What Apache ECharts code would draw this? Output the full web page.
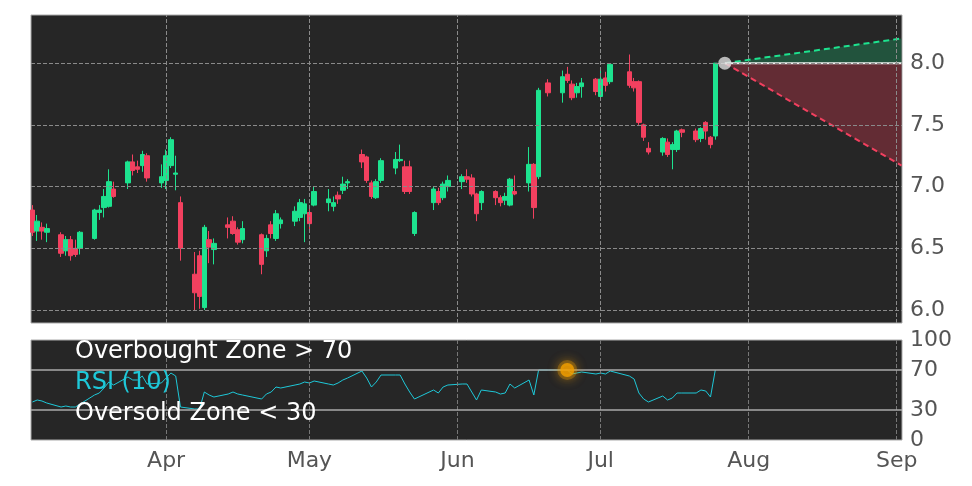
<!DOCTYPE html>
<html><head><meta charset="utf-8">
<script src="https://cdn.jsdelivr.net/npm/echarts@6/dist/echarts.min.js"></script>
<style>html,body{margin:0;background:#fff}#c{width:972px;height:486px}</style>
</head><body><div id="c"></div>
<script>
const dates = ['2025-03-04','2025-03-05','2025-03-06','2025-03-07','2025-03-10','2025-03-11','2025-03-12','2025-03-13','2025-03-14','2025-03-17','2025-03-18','2025-03-19','2025-03-20','2025-03-21','2025-03-24','2025-03-25','2025-03-26','2025-03-27','2025-03-28','2025-03-31',
'2025-04-01','2025-04-02','2025-04-03','2025-04-04','2025-04-07','2025-04-08','2025-04-09','2025-04-10','2025-04-11','2025-04-14','2025-04-15','2025-04-16','2025-04-17','2025-04-21','2025-04-22','2025-04-23','2025-04-24','2025-04-25','2025-04-28','2025-04-29','2025-04-30',
'2025-05-01','2025-05-02','2025-05-05','2025-05-06','2025-05-07','2025-05-08','2025-05-09','2025-05-12','2025-05-13','2025-05-14','2025-05-15','2025-05-16','2025-05-19','2025-05-20','2025-05-21','2025-05-22','2025-05-23','2025-05-27','2025-05-28','2025-05-29','2025-05-30',
'2025-06-02','2025-06-03','2025-06-04','2025-06-05','2025-06-06','2025-06-09','2025-06-10','2025-06-11','2025-06-12','2025-06-13','2025-06-16','2025-06-17','2025-06-18','2025-06-20','2025-06-23','2025-06-24','2025-06-25','2025-06-26','2025-06-27','2025-06-30',
'2025-07-01','2025-07-02','2025-07-03','2025-07-07','2025-07-08','2025-07-09','2025-07-10','2025-07-11','2025-07-14','2025-07-15','2025-07-16','2025-07-17','2025-07-18','2025-07-21','2025-07-22','2025-07-23','2025-07-24','2025-07-25'];
// [open, close, low, high]
const ohlc = [
[6.81,6.63,6.60,6.85],[6.64,6.72,6.56,6.77],[6.67,6.64,6.57,6.71],[6.63,6.66,6.55,6.70],[6.61,6.46,6.43,6.63],[6.48,6.57,6.44,6.60],[6.57,6.44,6.40,6.60],[6.50,6.45,6.43,6.57],[6.50,6.63,6.45,6.64],[6.58,6.81,6.57,6.82],
[6.79,6.81,6.73,6.85],[6.83,6.92,6.75,6.98],[6.84,7.04,6.83,7.14],[6.98,6.92,6.91,7.04],[7.03,7.20,6.98,7.21],[7.20,7.13,7.09,7.26],[7.16,7.14,7.11,7.21],[7.17,7.26,7.12,7.29],[7.25,7.07,7.04,7.27],[7.03,7.08,6.99,7.18],
[7.05,7.25,6.98,7.30],[7.17,7.38,7.15,7.40],[7.10,7.11,6.97,7.25],[6.87,6.50,6.40,6.92],[6.29,6.14,6.00,6.47],[6.44,6.11,6.01,6.48],[6.02,6.67,6.00,6.69],[6.57,6.51,6.38,6.64],[6.49,6.54,6.37,6.58],[6.69,6.67,6.58,6.75],
[6.72,6.62,6.61,6.76],[6.65,6.55,6.53,6.67],[6.57,6.66,6.54,6.72],[6.61,6.37,6.29,6.62],[6.48,6.58,6.43,6.61],[6.69,6.62,6.58,6.72],[6.58,6.78,6.56,6.81],[6.70,6.73,6.66,6.75],[6.72,6.80,6.68,6.84],[6.75,6.87,6.72,6.90],[6.78,6.86,6.55,6.90],
[6.79,6.70,6.64,6.82],[6.85,6.96,6.84,7.00],[6.87,6.90,6.80,6.98],[6.84,6.87,6.80,6.92],[6.93,6.90,6.86,6.96],[6.97,7.02,6.94,7.08],[7.03,7.04,6.98,7.06],[7.26,7.20,7.15,7.30],[7.24,7.05,7.03,7.25],[7.03,6.92,6.90,7.05],
[6.91,7.04,6.90,7.06],[7.05,7.21,7.03,7.23],[7.15,7.22,7.10,7.28],[7.21,7.22,7.20,7.34],[7.16,6.96,6.94,7.21],[7.16,6.96,6.94,7.21],[6.62,6.79,6.60,6.80],[6.87,6.98,6.81,7.00],[6.96,6.87,6.85,6.99],[6.91,7.02,6.89,7.04],[7.00,7.05,6.96,7.09],
[7.04,7.08,6.98,7.10],[7.08,7.06,7.03,7.14],[7.07,6.94,6.92,7.10],[6.94,6.78,6.72,6.95],[6.87,6.96,6.81,6.97],[6.96,6.91,6.85,6.97],[6.91,6.87,6.84,6.93],[6.89,6.92,6.85,6.95],[6.85,7.06,6.84,7.07],[6.96,6.94,6.93,7.09],
[7.03,7.18,6.96,7.32],[7.18,6.83,6.74,7.19],[7.08,7.78,7.06,7.80],[7.84,7.76,7.73,7.87],[7.76,7.89,7.68,7.94],[7.91,7.86,7.84,7.97],[7.83,7.72,7.70,7.86],[7.76,7.81,7.72,7.84],[7.81,7.84,7.72,7.88],[7.87,7.77,7.74,7.88],
[7.73,7.87,7.72,7.96],[7.88,7.82,7.77,7.93],[7.85,7.99,7.83,8.00],[7.93,7.82,7.80,8.07],[7.85,7.80,7.77,7.88],[7.85,7.52,7.50,7.86],[7.50,7.40,7.37,7.51],[7.31,7.28,7.26,7.36],[7.28,7.39,7.25,7.40],[7.36,7.26,7.24,7.39],
[7.30,7.34,7.14,7.36],[7.30,7.45,7.28,7.46],[7.46,7.44,7.40,7.47],[7.45,7.38,7.36,7.47],[7.39,7.47,7.36,7.48],[7.52,7.45,7.38,7.53],[7.40,7.34,7.31,7.41],[7.41,8.00,7.38,8.00]];
const rsi = [38,40,39,37,33,34,33,33,36,45,47,52,58,55,63,60,60,64,56,57,62,67,64,33,31,31,48,45,43,46,48,46,45,41,46,48,53,52,55,56,58,57,59,56,55,57,60,62,69,62,53,58,65,65,65,56,48,41,50,47,53,55,56,56,48,40,50,48,46,47,56,52,60,45,70,70,70,70,66,67,68,66,67,66,69,64,61,47,41,38,44,40,42,47,47,47,50,49,43,70];
const forecastDates = ['2025-07-27','2025-09-02'];
const forecastMid = [8.0, 8.0];
const forecastHigh = [8.0, 8.2];
const forecastLow = [8.0, 7.17];
const rsiDot = ['2025-06-24', 70];
const priceTicks = [6.0,6.5,7.0,7.5,8.0];
const rsiTicks = [0,30,70,100];
const monthTicks = ['2025-04-01','2025-05-01','2025-06-01','2025-07-01','2025-08-01','2025-09-01'];
const monthNames = ['Apr','May','Jun','Jul','Aug','Sep'];

const T = s => new Date(s+'T00:00:00Z').getTime();
const xMin = T('2025-03-04') - 0.3*864e5, xMax = T('2025-09-02') + 0.1*864e5;
const UP='#1de38f', DN='#f2405f';
const candles = dates.map((d,i)=>[T(d), ...ohlc[i]]);
const grey='#999';
const dash = {type:'dashed',color:'#8a8a8a',width:1};
const monthLines = monthTicks.map(m=>({xAxis:T(m)}));
const fc = forecastDates.map(T);
const FS = 22;

const chart = echarts.init(document.getElementById('c'));
chart.setOption({
  animation:false,
  backgroundColor:'#fff',
  grid:[{left:31,right:70,top:15,height:308,backgroundColor:'#262626',show:true,borderColor:'#aaa',borderWidth:1},
        {left:31,right:70,top:340,height:100,backgroundColor:'#262626',show:true,borderColor:'#aaa',borderWidth:1}],
  xAxis:[
    {type:'time',gridIndex:0,min:xMin,max:xMax,axisLabel:{show:false},axisLine:{show:false},axisTick:{show:false},splitLine:{show:false}},
    {type:'time',gridIndex:1,min:xMin,max:xMax,axisLine:{show:false},splitLine:{show:false},axisTick:{show:false},
     axisLabel:{color:'#555',fontSize:FS,fontFamily:'DejaVu Sans',margin:10,hideOverlap:false,
       formatter:v=>{const i=monthTicks.map(T).indexOf(v);return i>=0?monthNames[i]:'';}}}
  ],
  yAxis:[
    {type:'value',gridIndex:0,position:'right',min:5.895,max:8.39,splitLine:{show:false},axisLine:{show:false},
     axisTick:{customValues:priceTicks,length:5,lineStyle:{color:grey}},
     axisLabel:{customValues:priceTicks,color:'#555',fontSize:FS,fontFamily:'DejaVu Sans',margin:8,formatter:v=>v.toFixed(1)}},
    {type:'value',gridIndex:1,position:'right',min:0,max:100,splitLine:{show:false},axisLine:{show:false},
     axisTick:{customValues:rsiTicks,length:5,lineStyle:{color:grey}},
     axisLabel:{customValues:rsiTicks,color:'#555',fontSize:FS,fontFamily:'DejaVu Sans',margin:8}}
  ],
  series:[
    {type:'line',xAxisIndex:0,yAxisIndex:0,data:[],silent:true,
     markLine:{symbol:'none',silent:true,label:{show:false},lineStyle:dash,
       data:[...monthLines,...priceTicks.map(p=>({yAxis:p}))]}},
    {type:'custom',xAxisIndex:0,yAxisIndex:0,silent:true,data:[[fc[0],8]],
     renderItem:(params,api)=>{
       const a=api.coord([fc[0],forecastMid[0]]);
       const hi=api.coord([fc[1],forecastHigh[1]]), md=api.coord([fc[1],forecastMid[1]]), lo=api.coord([fc[1],forecastLow[1]]);
       return {type:'group',children:[
         {type:'polygon',shape:{points:[a,hi,md]},style:{fill:'rgba(30,140,90,0.45)'}},
         {type:'polygon',shape:{points:[a,md,lo]},style:{fill:'rgba(160,50,65,0.5)'}},
         {type:'line',shape:{x1:a[0],y1:a[1],x2:hi[0],y2:hi[1]},style:{stroke:UP,lineWidth:2,lineDash:[6,4]}},
         {type:'line',shape:{x1:a[0],y1:a[1],x2:lo[0],y2:lo[1]},style:{stroke:DN,lineWidth:2,lineDash:[6,4]}},
         {type:'line',shape:{x1:a[0],y1:a[1],x2:md[0],y2:md[1]},style:{stroke:'#eee',lineWidth:2}}
       ]};
     }},
    {type:'candlestick',xAxisIndex:0,yAxisIndex:0,data:candles,barWidth:5,
     itemStyle:{color:UP,color0:DN,borderColor:UP,borderColor0:DN,borderWidth:1}},
    {type:'scatter',xAxisIndex:0,yAxisIndex:0,data:[[fc[0],forecastMid[0]]],symbolSize:13,itemStyle:{color:'#ddd'},z:10},
    {type:'line',xAxisIndex:1,yAxisIndex:1,data:dates.map((d,i)=>[T(d),rsi[i]]),symbol:'none',lineStyle:{color:'#1ec8d8',width:1},
     markLine:{symbol:'none',silent:true,label:{show:false},
       data:[...monthLines.map(m=>({...m,lineStyle:{type:'dashed',color:'#777',width:1}})),
             {yAxis:70,lineStyle:{type:'solid',color:'#aaa',width:1.5}},{yAxis:30,lineStyle:{type:'solid',color:'#aaa',width:1.5}}]}},
    {type:'scatter',xAxisIndex:1,yAxisIndex:1,data:[[T(rsiDot[0]),rsiDot[1]]],symbolSize:14,
     itemStyle:{color:'#f5a000',shadowBlur:12,shadowColor:'rgba(245,160,0,0.8)',borderColor:'rgba(245,160,0,0.35)',borderWidth:6},z:10}
  ],
  graphic:[
    {type:'text',left:75,top:340,z:100,style:{text:'Overbought Zone > 70',fill:'#fff',fontSize:24,fontFamily:'DejaVu Sans'}},
    {type:'text',left:75,top:371,z:100,style:{text:'RSI (10)',fill:'#1ec8d8',fontSize:24,fontFamily:'DejaVu Sans'}},
    {type:'text',left:75,top:402,z:100,style:{text:'Oversold Zone < 30',fill:'#fff',fontSize:24,fontFamily:'DejaVu Sans'}}
  ]
});
</script></body></html>
